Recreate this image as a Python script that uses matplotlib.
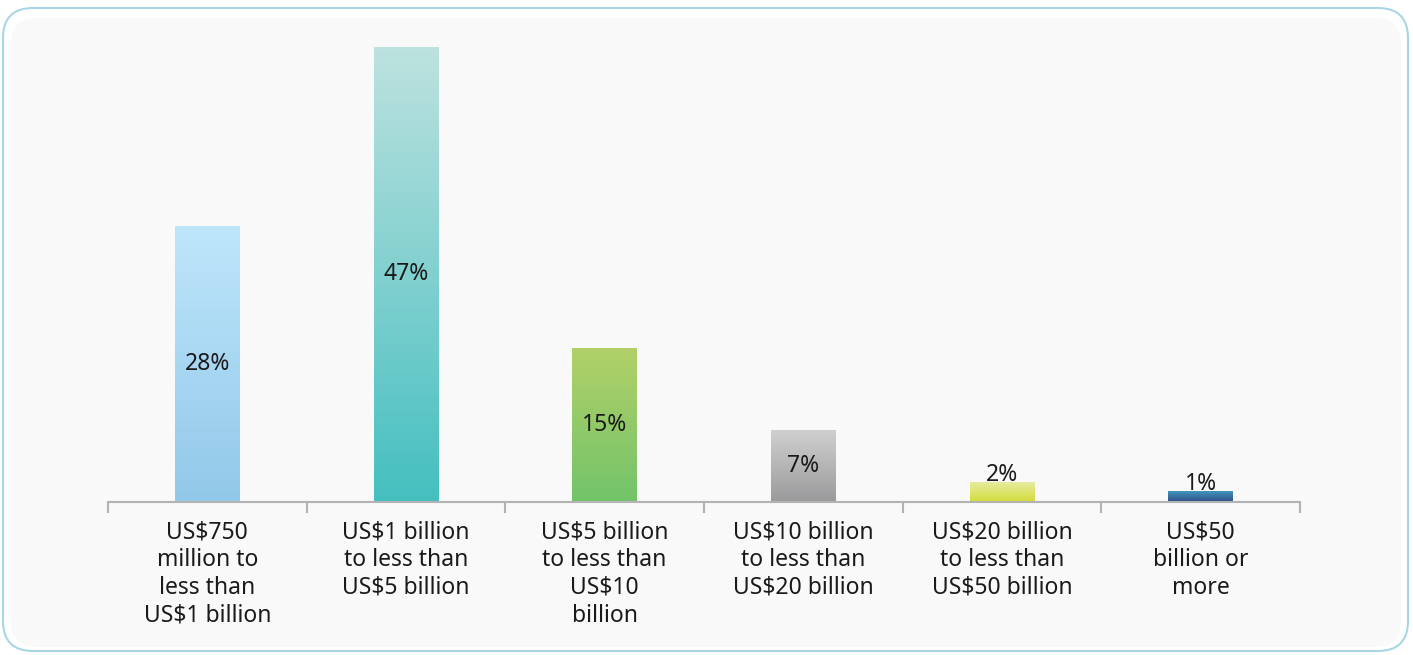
import numpy as np
import matplotlib.pyplot as plt
from matplotlib.patches import FancyBboxPatch
from matplotlib.colors import LinearSegmentedColormap

plt.rcParams['font.family'] = ['Noto Sans', 'DejaVu Sans']

categories = ["US$750\nmillion to\nless than\nUS$1 billion",
              "US$1 billion\nto less than\nUS$5 billion",
              "US$5 billion\nto less than\nUS$10\nbillion",
              "US$10 billion\nto less than\nUS$20 billion",
              "US$20 billion\nto less than\nUS$50 billion",
              "US$50\nbillion or\nmore"]
values = [28.5, 47.0, 15.9, 7.4, 2.1, 1.1]
labels = ["28%", "47%", "15%", "7%", "2%", "1%"]
# gradient colours (top, bottom)
grad = [("#bee6fb", "#92c8e9"),
        ("#bde2df", "#45bfc0"),
        ("#b2d068", "#72c46a"),
        ("#d0d0d0", "#9a9a9c"),
        ("#e8eca6", "#d2dd38"),
        ("#4196bd", "#2f4c85")]

W, H = 1413, 655
fig = plt.figure(figsize=(W / 100, H / 100), dpi=100)
fig.patch.set_facecolor("white")

# rounded frame drawn in a pixel-sized background axes
bg = fig.add_axes([0, 0, 1, 1], zorder=-1)
bg.set_xlim(0, W)
bg.set_ylim(H, 0)
bg.axis("off")
bg.add_patch(FancyBboxPatch((3, 8), 1405, 643,
                            boxstyle="round,pad=0,rounding_size=30",
                            facecolor="white", edgecolor="#a9d6e6",
                            linewidth=1.5))
bg.add_patch(FancyBboxPatch((11, 18), 1390, 629,
                            boxstyle="round,pad=0,rounding_size=26",
                            facecolor="#f9f9f9", edgecolor="none"))

ax = fig.add_axes([108 / W, 153 / H, 1192 / W, 455 / H])
ax.set_facecolor("none")
x = np.arange(len(values))
bars = ax.bar(x, values, width=0.327, color="none", zorder=2)

g = np.linspace(0, 1, 256).reshape(-1, 1)
for b, (top, bot) in zip(bars, grad):
    cmap = LinearSegmentedColormap.from_list("g", [bot, top])
    x0, y0 = b.get_x(), b.get_y()
    im = ax.imshow(g, cmap=cmap, origin="lower", aspect="auto",
                   extent=(x0, x0 + b.get_width(), y0, y0 + b.get_height()),
                   zorder=2)
    im.set_clip_path(b)

for xi, v, lab in zip(x, values, labels):
    if v > 5:
        ax.text(xi, v / 2, lab, ha="center", va="center", fontsize=16.5,
                color="#1a1a1a", zorder=3)
    else:
        ax.annotate(lab, (xi, v), xytext=(0, -3.5), textcoords="offset points",
                    ha="center", va="bottom", fontsize=16.5, color="#1a1a1a",
                    zorder=3)

ax.set_xlim(-0.5, len(values) - 0.5)
ax.set_ylim(0, 47)
for s in ["top", "left", "right"]:
    ax.spines[s].set_visible(False)
ax.spines["bottom"].set_color("#b3b3b3")
ax.spines["bottom"].set_linewidth(1.5)
ax.set_yticks([])
ax.set_xticks(x)
ax.set_xticklabels(categories, fontsize=16.5, color="#1a1a1a", linespacing=1.22)
ax.tick_params(axis="x", which="major", length=0, pad=13)
ax.set_xticks(np.arange(len(values) + 1) - 0.5, minor=True)
ax.tick_params(axis="x", which="minor", length=8, width=1.5, color="#b3b3b3")

fig.savefig("out.png", dpi=100)
